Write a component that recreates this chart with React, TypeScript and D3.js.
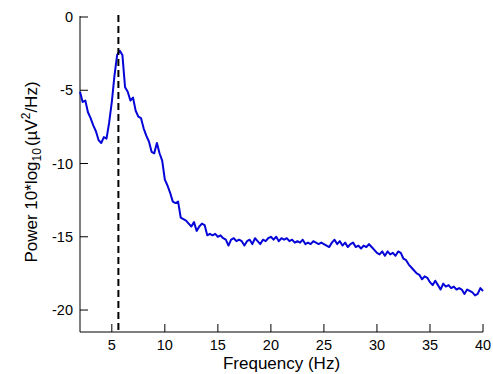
import React from "react";
import * as d3 from "d3";

const freqStart = 2;
const freqStep = 0.25;
const power: number[] = [
  -5.1, -5.8, -5.7, -6.5, -6.9, -7.4, -7.8, -8.4, -8.6, -8.2,
  -8.3, -7.2, -5.8, -4.0, -2.6, -2.3, -2.6, -4.8, -5.1, -5.7,
  -5.5, -6.4, -6.8, -6.9, -7.6, -8.1, -8.5, -9.2, -9.3, -8.6,
  -9.3, -9.8, -11.1, -11.5, -12.0, -12.6, -12.7, -12.6, -13.7, -13.8,
  -13.9, -14.1, -14.3, -14.0, -14.6, -14.3, -14.1, -14.2, -14.9, -14.8,
  -14.9, -14.8, -15.0, -14.9, -15.1, -15.2, -15.6, -15.2, -15.1, -15.3,
  -15.2, -15.3, -15.6, -15.3, -15.2, -15.5, -15.1, -15.3, -15.5, -15.2,
  -15.3, -15.1, -15.0, -15.2, -15.0, -15.3, -15.1, -15.2, -15.1, -15.3,
  -15.2, -15.4, -15.3, -15.4, -15.2, -15.5, -15.4, -15.5, -15.3, -15.4,
  -15.5, -15.4, -15.5, -15.6, -15.7, -15.4, -15.2, -15.5, -15.3, -15.6,
  -15.4, -15.7, -15.5, -15.4, -15.7, -15.6, -15.8, -15.6, -15.7, -15.5,
  -15.7, -15.9, -16.1, -16.2, -16.0, -16.3, -16.0, -16.2, -16.1, -16.3,
  -16.0, -16.1, -16.5, -16.6, -16.9, -17.1, -17.3, -17.5, -17.6, -17.9,
  -17.7, -17.8, -18.1, -18.3, -18.0, -18.3, -18.6, -18.2, -18.4, -18.3,
  -18.5, -18.4, -18.6, -18.5, -18.6, -18.9, -18.6, -18.7, -18.8, -19.0,
  -18.9, -18.5, -18.7,
];
const peakFreq = 5.62;
const xTicks = [5, 10, 15, 20, 25, 30, 35, 40];
const yTicks = [0, -5, -10, -15, -20];

const W = 493;
const H = 374;
const left = 80;
const right = 483;
const top = 17;
const bottom = 332;
const font = "'Liberation Sans', Arial, Helvetica, sans-serif";

export default function App() {
  const x = d3.scaleLinear().domain([2, 40]).range([left, right]);
  const y = d3.scaleLinear().domain([-21.5, 0]).range([bottom, top]);
  const pts: [number, number][] = power.map((v, i) => [freqStart + i * freqStep, v]);
  const line = d3
    .line<[number, number]>()
    .x((d) => x(d[0]))
    .y((d) => y(d[1]));
  const tickLen = 8;
  return (
    <svg
      width={W}
      height={H}
      style={{ position: "absolute", left: 0, top: 0, background: "#fff" }}
      fontFamily={font}
    >
      <rect x={0} y={0} width={W} height={H} fill="#fff" />
      <line x1={left} x2={left} y1={top - 1} y2={bottom} stroke="#000" strokeWidth={1} />
      <line x1={left} x2={right} y1={bottom} y2={bottom} stroke="#000" strokeWidth={1} />
      {xTicks.map((t) => (
        <g key={"x" + t}>
          <line x1={x(t)} x2={x(t)} y1={bottom} y2={bottom - tickLen} stroke="#000" />
          <text x={x(t)} y={350} fontSize={14.5} textAnchor="middle" fill="#000">
            {t}
          </text>
        </g>
      ))}
      {yTicks.map((t) => (
        <g key={"y" + t}>
          <line x1={left} x2={left + tickLen} y1={y(t)} y2={y(t)} stroke="#000" />
          <text x={73} y={y(t) + 5} fontSize={14.5} textAnchor="end" fill="#000">
            {t}
          </text>
        </g>
      ))}
      <path d={line(pts) || ""} fill="none" stroke="#0505d8" strokeWidth={2} strokeLinejoin="round" />
      <line
        x1={x(peakFreq)}
        x2={x(peakFreq)}
        y1={top - 2}
        y2={bottom}
        stroke="#000"
        strokeWidth={2}
        strokeDasharray="7,4"
      />
      <text x={(left + right) / 2} y={369} fontSize={17} textAnchor="middle" fill="#000">
        Frequency (Hz)
      </text>
      <text
        transform={`translate(37,172) rotate(-90)`}
        fontSize={17}
        textAnchor="middle"
        fill="#000"
      >
        Power 10*log
        <tspan fontSize={12} dy={4}>10</tspan>
        <tspan dy={-4} dx={2}>(µV</tspan>
        <tspan fontSize={12} dy={-7}>2</tspan>
        <tspan dy={7}>/Hz)</tspan>
      </text>
    </svg>
  );
}
